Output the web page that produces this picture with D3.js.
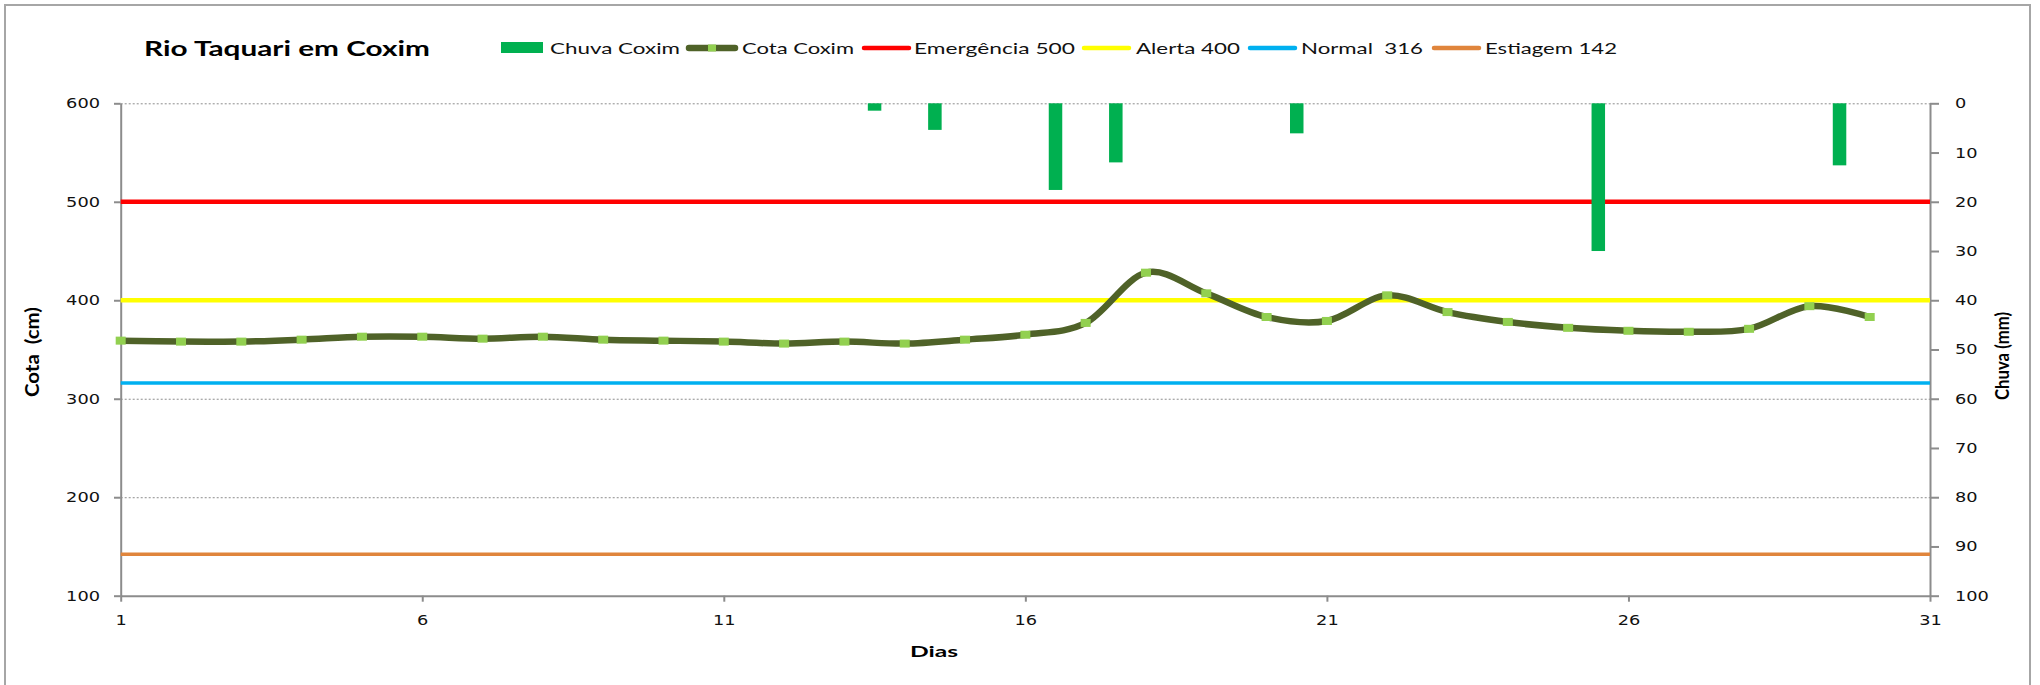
<!DOCTYPE html>
<html>
<head>
<meta charset="utf-8">
<script src="https://cdn.jsdelivr.net/npm/d3@7"></script>
<style>
  body { margin: 0; background: #fff; }
  text { white-space: pre; }
</style>
</head>
<body>
<div id="wrapper"></div>
<script>
// dados
const dias = [1,2,3,4,5,6,7,8,9,10,11,12,13,14,15,16,17,18,19,20,21,22,23,24,25,26,27,28,29,30];
const cota = [359,358,358,360,363,363,361,363,360,359,358,356,358,356,360,365,377,428,407,383,379,405,388,378,372,369,368,371,394,383];
const chuva = [0,0,0,0,0,0,0,0,0,0,0,0,1.5,5.4,0,17.6,12,0,0,6.1,0,0,0,0,30,0,0,0,12.6,0];

const nomesCotas = ["Emergência 500", "Alerta 400", "Normal  316", "Estiagem 142"];
const valoresCotas = [500, 400, 316, 142];
const coresCotas = ["#FF0000", "#FFFF00", "#00B0F0", "#E0853C"];

const ticksCota = [100, 200, 300, 400, 500, 600];
const ticksChuva = [0, 10, 20, 30, 40, 50, 60, 70, 80, 90, 100];
const ticksDias = [1, 6, 11, 16, 21, 26, 31];

let dimensions = {
	width: 2040,
	height: 685,
	margin: { top: 103.3, right: 110, bottom: 89.3, left: 120.7 }
};
dimensions.boundedWidth = dimensions.width - dimensions.margin.left - dimensions.margin.right;
dimensions.boundedHeight = dimensions.height - dimensions.margin.top - dimensions.margin.bottom;

const wrapper = d3.select("#wrapper").append("svg")
	.attr("width", dimensions.width)
	.attr("height", dimensions.height);

// moldura
wrapper.append("rect")
	.attr("x", 5).attr("y", 5)
	.attr("width", 2025).attr("height", 700)
	.attr("fill", "#fff")
	.attr("stroke", "#A6A6A6")
	.attr("stroke-width", 2);

const bounds = wrapper.append("g")
	.attr("transform", `translate(${dimensions.margin.left},${dimensions.margin.top})`);

const xScaler = d3.scaleLinear().domain([1, 31]).range([0, dimensions.boundedWidth]);
const xBand = d3.scaleBand().domain(dias).range([0, dimensions.boundedWidth]);
const yScaler = d3.scaleLinear().domain([100, 600]).range([dimensions.boundedHeight, 0]);
const y2Scaler = d3.scaleLinear().domain([0, 100]).range([0, dimensions.boundedHeight]);

// grade pontilhada
const grid = bounds.append("g")
	.call(d3.axisLeft(yScaler).tickValues(ticksCota.slice(1)).tickSize(-dimensions.boundedWidth).tickFormat(""));
grid.select(".domain").remove();
grid.selectAll("line")
	.attr("stroke", "#8C8C8C")
	.attr("stroke-width", 1)
	.attr("stroke-dasharray", "2,2");

// eixos
const tickFont = "'DejaVu Sans', Verdana, sans-serif";
function styleAxis(g) {
	g.select(".domain").attr("stroke", "#8C8C8C").attr("stroke-width", 2);
	g.selectAll(".tick line").attr("stroke", "#8C8C8C").attr("stroke-width", 2);
	g.selectAll(".tick text")
		.attr("fill", "#111")
		.style("font-family", tickFont)
		.style("font-size", "14px")
		.attr("textLength", d => String(d).length * 11.3)
		.attr("lengthAdjust", "spacingAndGlyphs");
}

const axisX = bounds.append("g")
	.attr("transform", `translate(0,${dimensions.boundedHeight})`)
	.call(d3.axisBottom(xScaler).tickValues(ticksDias).tickSize(6).tickSizeOuter(0));
styleAxis(axisX);
axisX.selectAll(".tick text").attr("y", 19.3);

const axisY = bounds.append("g")
	.call(d3.axisLeft(yScaler).tickValues(ticksCota).tickSize(6.7).tickSizeOuter(0));
styleAxis(axisY);
axisY.selectAll(".tick text").attr("x", -20.7);

const axisY2 = bounds.append("g")
	.attr("transform", `translate(${dimensions.boundedWidth},0)`)
	.call(d3.axisRight(y2Scaler).tickValues(ticksChuva).tickSize(9).tickSizeOuter(0));
styleAxis(axisY2);
axisY2.selectAll(".tick text").attr("x", 25);

// linhas de referência
bounds.append("g").selectAll("line")
	.data(valoresCotas)
	.enter().append("line")
	.attr("x1", 0)
	.attr("x2", dimensions.boundedWidth)
	.attr("y1", d => yScaler(d))
	.attr("y2", d => yScaler(d))
	.attr("stroke", (d, i) => coresCotas[i])
	.attr("stroke-width", (d, i) => i < 2 ? 4.5 : 3.5);

// cota
const lineGen = d3.line()
	.x((d, i) => xScaler(dias[i]))
	.y(d => yScaler(d))
	.curve(d3.curveCardinal.tension(0));

bounds.append("path")
	.datum(cota)
	.attr("d", lineGen)
	.attr("fill", "none")
	.attr("stroke", "#4F6228")
	.attr("stroke-width", 6.5)
	.attr("stroke-linejoin", "round");

bounds.append("g").selectAll("rect")
	.data(cota)
	.enter().append("rect")
	.attr("x", (d, i) => xScaler(dias[i]) - 5)
	.attr("y", d => yScaler(d) - 4)
	.attr("width", 10)
	.attr("height", 8)
	.attr("fill", "#92D050");

// chuva (barras no eixo secundário)
const barWidth = 13.5;
bounds.append("g").selectAll("rect")
	.data(chuva)
	.enter().append("rect")
	.attr("x", (d, i) => xBand(dias[i]) + xBand.bandwidth() / 2 - barWidth / 2)
	.attr("y", 0)
	.attr("width", barWidth)
	.attr("height", d => y2Scaler(d))
	.attr("fill", "#00B050");

// títulos dos eixos
const labelFont = "Lato, 'Open Sans', sans-serif";
wrapper.append("text")
	.attr("transform", "translate(39,352) rotate(-90)")
	.attr("text-anchor", "middle")
	.style("font-family", labelFont)
	.style("font-weight", "bold")
	.style("font-size", "19px")
	.attr("textLength", 90)
	.attr("lengthAdjust", "spacingAndGlyphs")
	.text("Cota  (cm)");

wrapper.append("text")
	.attr("transform", "translate(2009,356) rotate(-90)")
	.attr("text-anchor", "middle")
	.style("font-family", labelFont)
	.style("font-weight", "bold")
	.style("font-size", "19px")
	.attr("textLength", 88)
	.attr("lengthAdjust", "spacingAndGlyphs")
	.text("Chuva (mm)");

wrapper.append("text")
	.attr("x", 934)
	.attr("y", 657)
	.attr("text-anchor", "middle")
	.style("font-family", labelFont)
	.style("font-weight", "bold")
	.style("font-size", "16px")
	.attr("textLength", 48)
	.attr("lengthAdjust", "spacingAndGlyphs")
	.text("Dias");

// título
wrapper.append("text")
	.attr("x", 144)
	.attr("y", 56)
	.style("font-family", labelFont)
	.style("font-weight", "bold")
	.style("font-size", "20px")
	.attr("textLength", 286)
	.attr("lengthAdjust", "spacingAndGlyphs")
	.text("Rio Taquari em Coxim");

// legenda
const legend = wrapper.append("g");
const legendText = (x, w, t) => legend.append("text")
	.attr("x", x).attr("y", 53.5)
	.style("font-family", labelFont)
	.style("font-size", "15px")
	.attr("fill", "#111")
	.attr("textLength", w)
	.attr("lengthAdjust", "spacingAndGlyphs")
	.text(t);

legend.append("rect")
	.attr("x", 501).attr("y", 42).attr("width", 42).attr("height", 11)
	.attr("fill", "#00B050");
legendText(550, 130, "Chuva Coxim");

legend.append("line")
	.attr("x1", 689).attr("x2", 735).attr("y1", 48).attr("y2", 48)
	.attr("stroke", "#4F6228").attr("stroke-width", 6.5).attr("stroke-linecap", "round");
legend.append("rect")
	.attr("x", 708).attr("y", 44.5).attr("width", 8).attr("height", 7)
	.attr("fill", "#92D050");
legendText(742, 112, "Cota Coxim");

const legX = [862, 1082, 1248, 1432];
const legTx = [914, 1136, 1301, 1485];
const legW = [161, 104, 122, 132];
nomesCotas.forEach((nome, i) => {
	legend.append("line")
		.attr("x1", legX[i] + 2).attr("x2", legX[i] + 47)
		.attr("y1", 48).attr("y2", 48)
		.attr("stroke", coresCotas[i]).attr("stroke-width", 4.5).attr("stroke-linecap", "round");
	legendText(legTx[i], legW[i], nome);
});
</script>
</body>
</html>
